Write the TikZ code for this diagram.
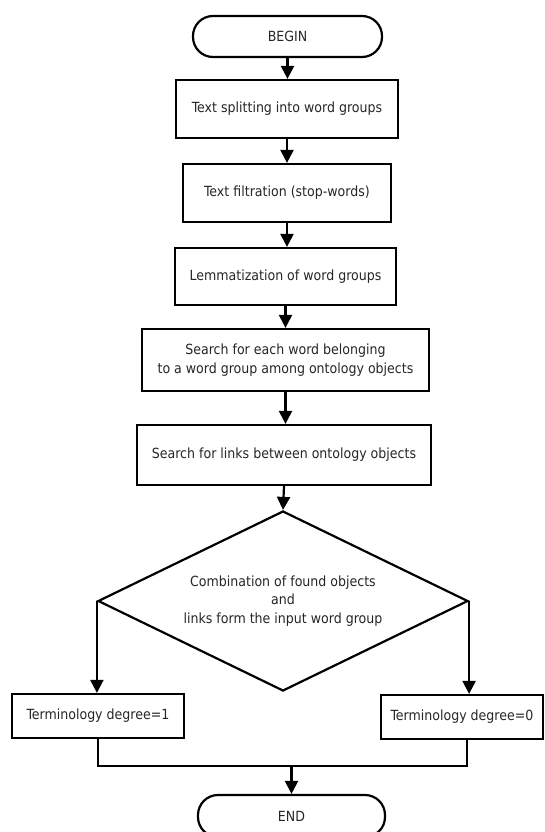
\documentclass[tikz,border=0pt]{standalone}
\usepackage{fontspec}
\setmainfont{DejaVu Sans Condensed}
\usetikzlibrary{arrows.meta,shapes.geometric}

\tikzset{
  flow/.style={line width=2.2pt},
  arr/.style={flow,-{Triangle[width=13pt,length=13pt]}},
  terminal/.style={draw,line width=2.2pt,rounded corners=20pt,inner sep=0pt},
  stepbox/.style={draw,line width=2.2pt,rectangle,inner sep=0pt,align=center},
  decision/.style={draw,line width=2.2pt,diamond,shape aspect=2.06,inner sep=0pt,align=center,
                   minimum width=370pt,minimum height=180pt},
}

\begin{document}
\begin{tikzpicture}[x=1pt,y=-1pt,font=\fontsize{14}{18.5}\selectfont,text=black!85]
  \useasboundingbox (0,0) rectangle (544,832);

  % terminals and processing steps
  \node[terminal,minimum width=189pt,minimum height=41pt] (begin) at (287.5,36.5) {BEGIN};
  \node[stepbox,minimum width=222pt,minimum height=58pt] (split) at (287,109) {Text splitting into word groups};
  \node[stepbox,minimum width=208pt,minimum height=58pt] (filter) at (287,193) {Text filtration (stop-words)};
  \node[stepbox,minimum width=221pt,minimum height=57pt] (lemma) at (285.5,276.5) {Lemmatization of word groups};
  \node[stepbox,minimum width=287pt,minimum height=62pt] (search) at (285.5,360) {Search for each word belonging\\to a word group among ontology objects};
  \node[stepbox,minimum width=294pt,minimum height=60pt] (links) at (284,455) {Search for links between ontology objects};

  % decision
  \node[decision] (dec) at (283,601) {Combination of found objects\\and\\links form the input word group};

  % outcomes
  \node[stepbox,minimum width=172pt,minimum height=44pt] (deg1) at (98,716) {Terminology degree=1};
  \node[stepbox,minimum width=162pt,minimum height=44pt] (deg0) at (462,717) {Terminology degree=0};
  \node[terminal,minimum width=187pt,minimum height=42pt] (end) at (291.5,816) {END};

  % main sequence
  \draw[arr] (begin.south) -- (begin.south |- split.north);
  \draw[arr] (split.south) -- (split.south |- filter.north);
  \draw[arr] (filter.south) -- (filter.south |- lemma.north);
  \draw[arr] (lemma.south) -- (lemma.south |- search.north);
  \draw[arr] (search.south) -- (search.south |- links.north);
  \draw[arr] (links.south) -- (dec.north);

  % branches
  \draw[arr] (dec.west) -- (dec.west |- deg1.north);
  \draw[arr] (dec.east) -- (dec.east |- deg0.north);

  % merge into END
  \coordinate (jl) at (98,766);
  \coordinate (jr) at (467,766);
  \coordinate (jm) at (end.north |- jl);
  \draw[flow] (deg1.south) -- (jl) -- (jr) -- (jr |- deg0.south);
  \draw[arr] (jm) -- (end.north);
\end{tikzpicture}
\end{document}
